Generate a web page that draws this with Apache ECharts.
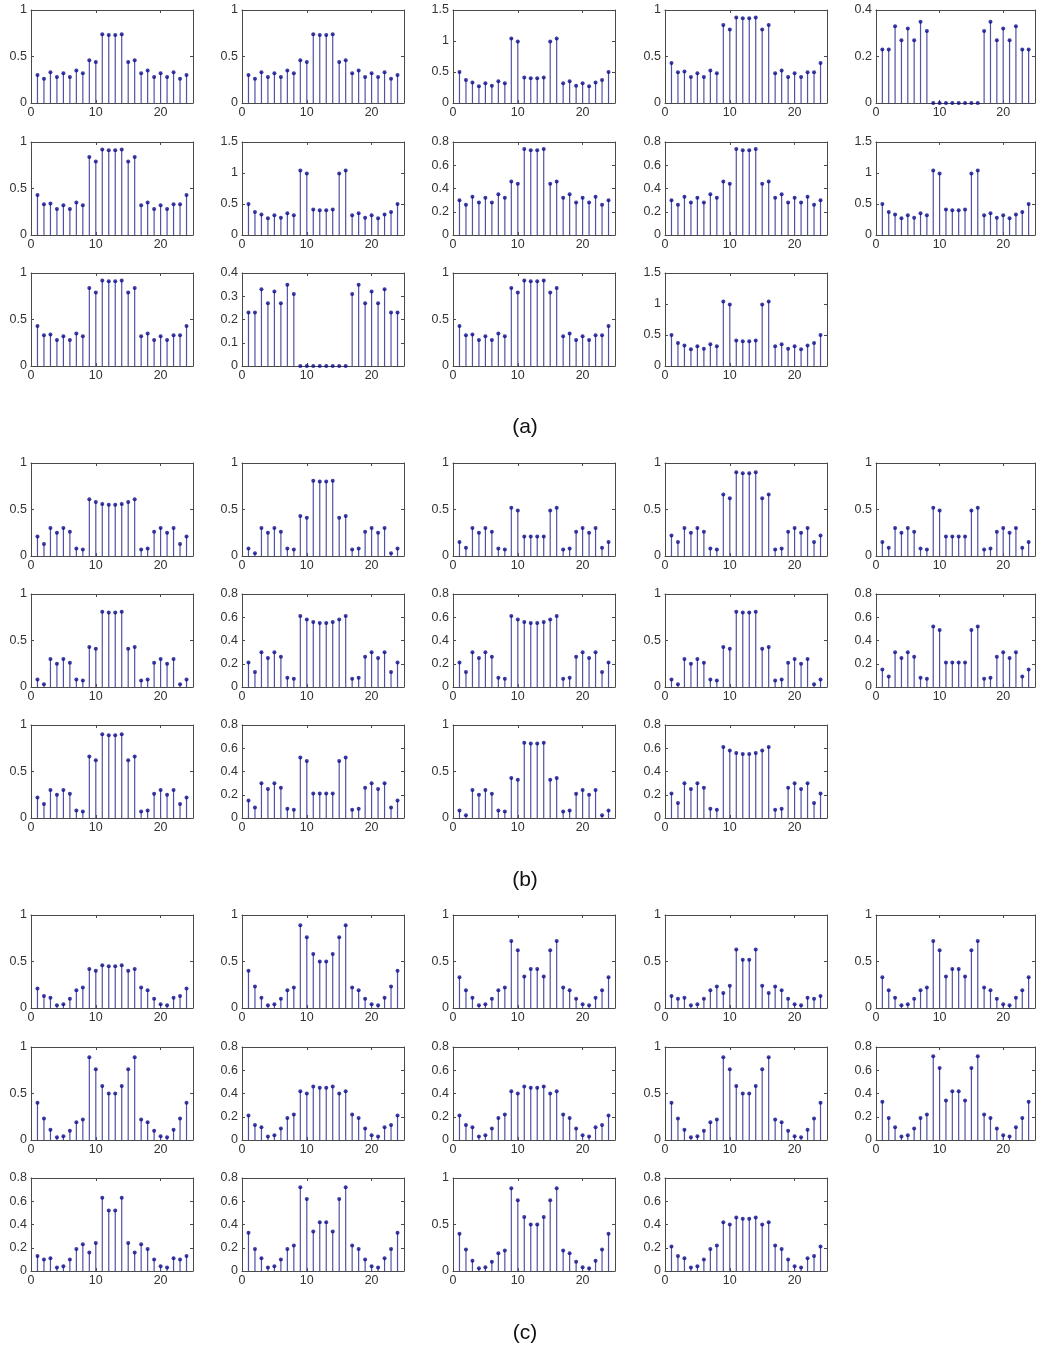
<!DOCTYPE html>
<html>
<head>
<meta charset="utf-8">
<script src="https://cdn.jsdelivr.net/npm/echarts@6/dist/echarts.min.js"></script>
<style>
html,body{margin:0;padding:0;background:#fff;}
#chart{width:1038px;height:1348px;}
</style>
</head>
<body>
<div id="chart"></div>
<script>
// x positions (sample index)
const xPos = [1,2,3,4,5,6,7,8,9,10,11,12,13,14,15,16,17,18,19,20,21,22,23,24];

// group (a) signal shapes
const aCenter   = [0.30,0.26,0.33,0.28,0.32,0.28,0.35,0.32,0.46,0.44,0.74,0.73,0.73,0.74,0.44,0.46,0.32,0.35,0.28,0.32,0.28,0.33,0.26,0.30];
const aTwoPeaks = [0.50,0.37,0.33,0.27,0.32,0.28,0.35,0.32,1.04,0.99,0.41,0.40,0.40,0.41,0.99,1.04,0.32,0.35,0.28,0.32,0.27,0.33,0.37,0.50];
const aWide     = [0.43,0.33,0.34,0.28,0.32,0.28,0.35,0.32,0.84,0.79,0.92,0.91,0.91,0.92,0.79,0.84,0.32,0.35,0.28,0.32,0.28,0.33,0.33,0.43];
const aGap      = [0.23,0.23,0.33,0.27,0.32,0.27,0.35,0.31,0,0,0,0,0,0,0,0,0.31,0.35,0.27,0.32,0.27,0.33,0.23,0.23];

// group (b) signal shapes
const bPlateau  = [0.21,0.13,0.30,0.25,0.30,0.26,0.08,0.07,0.61,0.58,0.56,0.55,0.55,0.56,0.58,0.61,0.07,0.08,0.26,0.30,0.25,0.30,0.13,0.21];
const bCenter   = [0.08,0.03,0.30,0.25,0.30,0.26,0.08,0.07,0.43,0.41,0.81,0.80,0.80,0.81,0.41,0.43,0.07,0.08,0.26,0.30,0.25,0.30,0.03,0.08];
const bTwoPeaks = [0.15,0.09,0.30,0.25,0.30,0.26,0.08,0.07,0.52,0.49,0.21,0.21,0.21,0.21,0.49,0.52,0.07,0.08,0.26,0.30,0.25,0.30,0.09,0.15];
const bWide     = [0.22,0.15,0.30,0.25,0.30,0.26,0.08,0.07,0.66,0.62,0.90,0.89,0.89,0.90,0.62,0.66,0.07,0.08,0.26,0.30,0.25,0.30,0.15,0.22];

// group (c) signal shapes
const cPlateau  = [0.21,0.13,0.11,0.03,0.04,0.10,0.19,0.22,0.42,0.40,0.46,0.45,0.45,0.46,0.40,0.42,0.22,0.19,0.10,0.04,0.03,0.11,0.13,0.21];
const cHigh     = [0.40,0.23,0.11,0.03,0.04,0.10,0.19,0.22,0.89,0.76,0.58,0.50,0.50,0.58,0.76,0.89,0.22,0.19,0.10,0.04,0.03,0.11,0.23,0.40];
const cMid      = [0.33,0.19,0.11,0.03,0.04,0.10,0.19,0.22,0.72,0.62,0.34,0.42,0.42,0.34,0.62,0.72,0.22,0.19,0.10,0.04,0.03,0.11,0.19,0.33];
const cCenter   = [0.13,0.10,0.11,0.03,0.04,0.10,0.19,0.23,0.16,0.24,0.63,0.52,0.52,0.63,0.24,0.16,0.23,0.19,0.10,0.04,0.03,0.11,0.10,0.13];

// panel contents per group (row-major, 5 + 5 + 4)
const panelsA = [aCenter,aCenter,aTwoPeaks,aWide,aGap, aWide,aTwoPeaks,aCenter,aCenter,aTwoPeaks, aWide,aGap,aWide,aTwoPeaks];
const yMaxA   = [1,1,1.5,1,0.4, 1,1.5,0.8,0.8,1.5, 1,0.4,1,1.5];
const yStepA  = [0.5,0.5,0.5,0.5,0.2, 0.5,0.5,0.2,0.2,0.5, 0.5,0.1,0.5,0.5];

const panelsB = [bPlateau,bCenter,bTwoPeaks,bWide,bTwoPeaks, bCenter,bPlateau,bPlateau,bCenter,bTwoPeaks, bWide,bTwoPeaks,bCenter,bPlateau];
const yMaxB   = [1,1,1,1,1, 1,0.8,0.8,1,0.8, 1,0.8,1,0.8];
const yStepB  = [0.5,0.5,0.5,0.5,0.5, 0.5,0.2,0.2,0.5,0.2, 0.5,0.2,0.5,0.2];

const panelsC = [cPlateau,cHigh,cMid,cCenter,cMid, cHigh,cPlateau,cPlateau,cHigh,cMid, cCenter,cMid,cHigh,cPlateau];
const yMaxC   = [1,1,1,1,1, 1,0.8,0.8,1,0.8, 0.8,0.8,1,0.8];
const yStepC  = [0.5,0.5,0.5,0.5,0.5, 0.5,0.2,0.2,0.5,0.2, 0.2,0.2,0.5,0.2];

const groupLabels = ['(a)','(b)','(c)'];
const xTicks = [0,10,20];

// layout
const colLeft = [31,242,453,665,876];
const panelW = 162, panelH = 93;
const rowTops = [[10,142,273],[463,594,725],[915,1047,1178]];
const labelY = [427,880,1333];

const groups = [
  {p:panelsA, m:yMaxA, s:yStepA},
  {p:panelsB, m:yMaxB, s:yStepB},
  {p:panelsC, m:yMaxC, s:yStepC}
];

const FONT = 'Liberation Sans, Arial, sans-serif';
const frameColor = '#4a4a4a';
const labelColor = '#333';
const labelSize = 12.5;
const grids = [], xAxes = [], yAxes = [], series = [], graphics = [];

groups.forEach((g, gi) => {
  g.p.forEach((vals, pi) => {
    const row = pi < 5 ? 0 : (pi < 10 ? 1 : 2);
    const col = pi < 5 ? pi : (pi < 10 ? pi - 5 : pi - 10);
    const idx = grids.length;
    grids.push({left: colLeft[col], top: rowTops[gi][row], width: panelW, height: panelH, containLabel: false});
    const lineStyle = {color: frameColor, width: 1};
    const tick = {show: true, inside: true, length: 3, lineStyle: {color: frameColor}};
    xAxes.push({
      type: 'value', gridIndex: idx, position: 'bottom', min: 0, max: 25, interval: 10,
      axisLine: {show: true, onZero: false, lineStyle},
      axisTick: tick, splitLine: {show: false},
      axisLabel: {show: true, margin: 3, fontSize: labelSize, color: labelColor, fontFamily: FONT,
        formatter: v => xTicks.indexOf(v) >= 0 ? String(v) : ''}
    });
    xAxes.push({
      type: 'value', gridIndex: idx, position: 'top', min: 0, max: 25, interval: 10,
      axisLine: {show: true, onZero: false, lineStyle},
      axisTick: tick, splitLine: {show: false}, axisLabel: {show: false}
    });
    yAxes.push({
      type: 'value', gridIndex: idx, position: 'left', min: 0, max: g.m[pi], interval: g.s[pi],
      axisLine: {show: true, onZero: false, lineStyle},
      axisTick: tick, splitLine: {show: false},
      axisLabel: {show: true, margin: 4, fontSize: labelSize, color: labelColor, fontFamily: FONT}
    });
    yAxes.push({
      type: 'value', gridIndex: idx, position: 'right', min: 0, max: g.m[pi], interval: g.s[pi],
      axisLine: {show: true, onZero: false, lineStyle},
      axisTick: tick, splitLine: {show: false}, axisLabel: {show: false}
    });
    const pts = xPos.map((x, k) => [x, vals[k]]);
    series.push({
      type: 'bar', xAxisIndex: 2*idx, yAxisIndex: 2*idx, data: pts,
      barWidth: 1.2, itemStyle: {color: '#5252a4'}, silent: true, animation: false
    });
    series.push({
      type: 'scatter', xAxisIndex: 2*idx, yAxisIndex: 2*idx, data: pts,
      symbol: 'circle', symbolSize: 4, itemStyle: {color: '#0a0a8c'}, silent: true, animation: false, z: 5
    });
  });
  graphics.push({
    x: 525, y: labelY[gi],
    style: {text: groupLabels[gi], font: '21px ' + FONT, fill: '#111', textAlign: 'center', textVerticalAlign: 'middle'}
  });
});

const chart = echarts.init(document.getElementById('chart'), null, {renderer: 'canvas'});
chart.setOption({
  backgroundColor: '#fff',
  animation: false,
  grid: grids,
  xAxis: xAxes,
  yAxis: yAxes,
  series: series,
  graphic: graphics.map(t => ({type: 'text', x: t.x, y: t.y, style: t.style}))
});
</script>
</body>
</html>
